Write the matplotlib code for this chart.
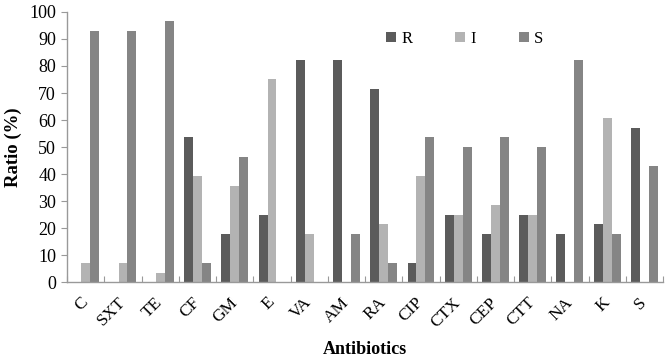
import matplotlib
matplotlib.use("Agg")
import matplotlib.pyplot as plt
import numpy as np

categories = ["C", "SXT", "TE", "CF", "GM", "E", "VA", "AM", "RA", "CIP", "CTX", "CEP", "CTT", "NA", "K", "S"]
R = [0, 0, 0, 53.6, 17.9, 25, 82.1, 82.1, 71.4, 7.1, 25, 17.9, 25, 17.9, 21.4, 57.1]
I = [7.1, 7.1, 3.5, 39.3, 35.7, 75, 17.9, 0, 21.4, 39.3, 25, 28.6, 25, 0, 60.7, 0]
S = [92.9, 92.9, 96.5, 7.1, 46.4, 0, 0, 17.9, 7.1, 53.6, 50, 53.6, 50, 82.1, 17.9, 42.9]
yticks = list(range(0, 101, 10))

plt.rcParams['font.family'] = ['Liberation Serif', 'DejaVu Serif']

fig = plt.figure(figsize=(6.65, 3.63), dpi=100)
ax = fig.add_axes([0.101, 0.223, 0.896, 0.744])

x = np.arange(len(categories))
w = 0.24
ax.bar(x - w, R, w, color="#5b5b5b", label="R")
ax.bar(x, I, w, color="#b3b3b3", label="I")
ax.bar(x + w, S, w, color="#858585", label="S")

ax.set_xlim(-0.5, len(categories) - 0.5)
ax.set_ylim(0, 100)
ax.set_yticks(yticks)
ax.tick_params(axis='y', labelsize=13, length=4, color="#999999", width=0.8, pad=4)
ax.set_xticks(x)
ax.set_xticklabels(categories, rotation=45, ha='right', va='center', rotation_mode='anchor', fontsize=12.5)
ax.tick_params(axis='x', length=0, pad=13)
ax.set_xticks(np.arange(-0.5, len(categories)), minor=True)
ax.tick_params(axis='x', which='minor', direction='in', length=4, color="#999999", width=0.8)

for s in ['top', 'right']:
    ax.spines[s].set_visible(False)
for s in ['left', 'bottom']:
    ax.spines[s].set_color("#999999")
    ax.spines[s].set_linewidth(1.0)

ax.set_ylabel("Ratio (%)", fontsize=13.5, fontweight='bold', labelpad=5)
ax.set_xlabel("Antibiotics", fontsize=13, fontweight='bold', labelpad=8)

ax.legend(ncol=3, frameon=False, fontsize=12, loc='upper left', bbox_to_anchor=(0.51, 0.985),
          handlelength=0.6, handleheight=0.6, handletextpad=0.3, columnspacing=2.6)

fig.savefig("out.png", dpi=100)
